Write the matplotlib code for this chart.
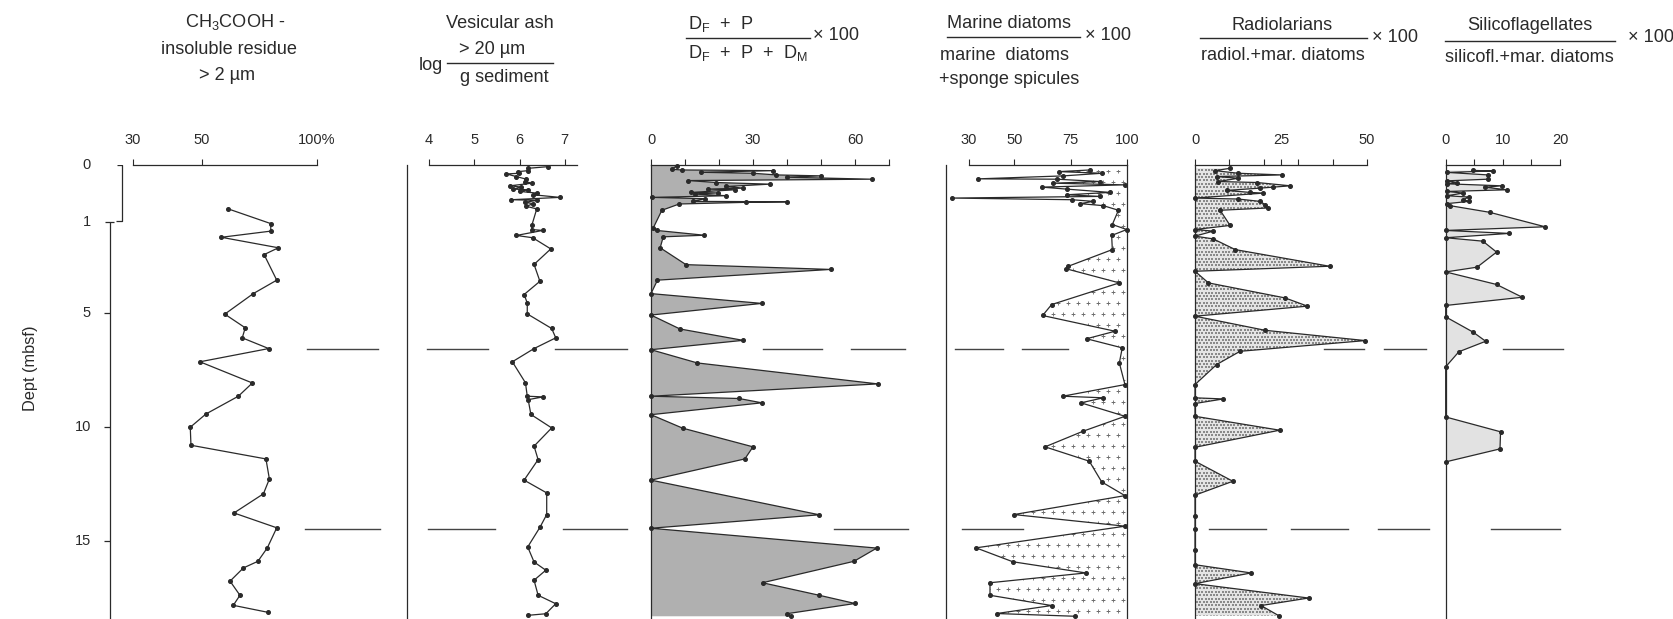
import numpy as np
import matplotlib
matplotlib.use('Agg')
import matplotlib.pyplot as plt
from matplotlib import font_manager as fm
from matplotlib.ticker import NullLocator

# ---------------- data (depth in mbsf, value) ----------------
ins_depth = [0.77, 1.07, 1.40, 1.67, 2.13, 2.43, 3.55, 4.14, 5.04, 5.64, 6.08, 6.55, 7.13, 8.06, 8.64,
             9.42, 10.0, 10.79, 11.39, 12.27, 12.92, 13.76, 14.41, 15.29, 15.88, 16.17, 16.75, 17.37,
             17.81, 18.12]
ins_val = [61.4, 79.9, 79.9, 58.4, 83.2, 77.0, 82.5, 72.3, 59.9, 68.8, 67.5, 79.0, 49.4, 71.9, 65.8,
           51.7, 46.6, 46.8, 77.8, 79.3, 76.7, 63.9, 82.5, 78.4, 74.3, 68.0, 62.2, 66.5, 63.6, 78.8]

ash_depth = [0.029, 0.058, 0.099, 0.116, 0.145, 0.157, 0.203, 0.249, 0.29, 0.319, 0.365, 0.388, 0.423,
             0.435, 0.464, 0.493, 0.522, 0.568, 0.609, 0.62, 0.655, 0.678, 0.725, 0.77, 1.15, 1.33,
             1.37, 1.59, 1.69, 2.18, 2.86, 3.60, 4.18, 4.55, 5.03, 5.67, 6.08, 6.55, 7.13, 8.05, 8.64,
             8.67, 8.79, 9.44, 10.03, 10.83, 11.42, 12.32, 12.88, 13.83, 14.39, 15.25, 15.91, 16.27,
             16.71, 17.37, 17.74, 18.18, 18.25]
ash_val = [6.63, 6.19, 6.19, 5.97, 5.99, 5.71, 5.93, 6.15, 6.12, 6.27, 5.79, 6.04, 5.86,
           6.19, 6.01, 6.38, 6.30, 6.89, 5.82, 6.38, 6.12, 6.30, 6.15, 6.38, 6.27, 6.27,
           6.51, 5.93, 6.29, 6.69, 6.32, 6.45, 6.10, 6.17, 6.17, 6.71, 6.80, 6.32, 5.84, 6.13, 6.17,
           6.52, 6.19, 6.25, 6.71, 6.32, 6.41, 6.10, 6.60, 6.60, 6.45, 6.18, 6.32, 6.58,
           6.32, 6.41, 6.80, 6.58, 6.18]

df_depth = [0.017, 0.075, 0.087, 0.099, 0.128, 0.145, 0.174, 0.191, 0.214, 0.249, 0.273, 0.307, 0.336,
            0.377, 0.406, 0.423, 0.435, 0.481, 0.490, 0.51, 0.539, 0.568, 0.591, 0.638, 0.645, 0.655,
            0.684, 0.794, 1.25, 1.37, 1.58, 1.65, 2.13, 2.87, 3.08, 3.55, 4.14, 4.57, 5.08, 5.69, 6.19,
            6.60, 7.18, 8.10, 8.64, 8.74, 8.93, 9.45, 10.04, 10.86, 11.39, 12.32, 13.84, 14.43, 15.3,
            15.88, 16.82, 17.37, 17.73, 18.18, 18.29]
df_val = [7.5, 6.1, 9.0, 36, 14.8, 30, 36.9, 50.1, 39.9, 64.9, 10.9, 19.2, 34.9,
          22.2, 27.1, 16.8, 24.6, 11.9, 19.6, 12.9, 22.2, 0.2, 15.9, 12.4, 39.9, 27.9,
          8.3, 3.2, 0.7, 1.7, 15.7, 3.6, 2.7, 10.3, 52.8, 1.9, 0, 32.6, 0, 8.5, 27.1,
          0, 13.6, 66.7, 0, 25.9, 32.6, 0, 9.3, 30, 27.6, 0, 49.5, 0, 66.4,
          59.7, 32.8, 49.5, 60, 39.9, 41.3]

md_depth = [0.087, 0.116, 0.145, 0.191, 0.243, 0.249, 0.29, 0.319, 0.348, 0.388, 0.423, 0.481, 0.522,
            0.551, 0.58, 0.609, 0.638, 0.678, 0.713, 0.794, 1.11, 1.33, 1.59, 2.21, 2.94, 3.05, 3.67,
            4.62, 5.10, 5.79, 6.12, 6.52, 7.18, 8.13, 8.64, 8.71, 8.93, 9.52, 10.18, 10.86, 11.49,
            12.4, 13.0, 13.83, 14.34, 15.29, 15.90, 16.39, 16.82, 17.37, 17.82, 18.17, 18.29]
md_val = [83.6, 70, 88.8, 71.8, 34.1, 68.9, 88, 67.4, 99, 62.2, 73.3, 92.5, 73.3,
          88, 22.3, 75.5, 85.1, 79.2, 89.5, 96.2, 93.5, 99.9, 93.2, 93.5, 74, 73, 96.6,
          66.6, 62.6, 94.7, 82.1, 97.9, 96.6, 99.1, 71.5, 89.5, 79.6, 99.1, 80.4, 63.7, 83.3,
          88.8, 99.1, 49.9, 99.1, 33.1, 49.4, 81.8, 39.3, 39.3, 66.6, 42.3, 77]

rad_depth = [0.058, 0.099, 0.145, 0.174, 0.203, 0.232, 0.29, 0.307, 0.365, 0.388, 0.406, 0.446, 0.481,
             0.493, 0.58, 0.597, 0.638, 0.696, 0.754, 0.794, 1.15, 1.33, 1.40, 1.62, 1.74, 2.21, 2.94,
             3.16, 3.67, 4.33, 4.69, 5.13, 5.75, 6.20, 6.67, 7.25, 8.13, 8.71, 8.76, 8.96, 9.52, 10.13,
             10.88, 11.49, 12.37, 12.98, 13.9, 14.46, 15.37, 16.03, 16.39, 16.86, 17.49, 17.82, 18.26]
rad_val = [10.2, 5.8, 12.6, 25.2, 6.3, 12.6, 6.8, 18, 27.7, 22.8, 18.9, 9.2, 16,
           19.9, 0, 12.6, 18.9, 20.4, 21.1, 7.3, 10.2, 0, 5.3, 0, 5.3, 11.7, 39.1,
           0, 3.9, 26.2, 32.7, 0, 20.4, 49.5, 13.1, 6.3, 0, 0, 8.2, 0, 0, 24.6,
           0, 0, 11, 0, 0, 0, 0, 0, 16.3, 0, 33, 19.2, 24.3]

sil_depth = [0.095, 0.105, 0.13, 0.174, 0.249, 0.278, 0.307, 0.33, 0.365, 0.39, 0.435, 0.464, 0.493,
             0.539, 0.562, 0.609, 0.638, 0.678, 0.713, 0.83, 1.21, 1.37, 1.50, 1.69, 1.84, 2.32, 2.98,
             3.19, 3.74, 4.30, 4.66, 5.16, 5.83, 6.23, 6.69, 7.35, 9.55, 10.2, 10.95, 11.52]
sil_val = [4.8, 8.2, 0.3, 7.4, 7.4, 0.2, 1.9, 0.2, 9.8, 6.9, 10.7, 0.2, 3.1,
           0.2, 4.0, 3.1, 4.1, 0.2, 0.75, 7.7, 17.4, 0, 11.1, 0, 6.5, 8.9, 5.5,
           0, 8.9, 13.4, 0, 0, 4.8, 7.0, 2.3, 0, 0, 9.6, 9.5, 0]

marker_depths = [6.55, 14.45]

# ---------------- fonts ----------------
names = {f.name for f in fm.fontManager.ttflist}
if 'Liberation Sans Narrow' in names:
    FONT, K = 'Liberation Sans Narrow', 1.0
else:
    FONT, K = 'Liberation Sans', 0.84
plt.rcParams['font.family'] = [FONT, 'DejaVu Sans']
plt.rcParams['mathtext.fontset'] = 'custom'
plt.rcParams['mathtext.rm'] = FONT
plt.rcParams['mathtext.it'] = FONT
plt.rcParams['mathtext.bf'] = FONT
HS = 15.5 * K
TS = 12.5 * K
INK = '#2a2a2a'

W, H = 1673, 619
fig = plt.figure(figsize=(W / 100, H / 100), dpi=100)
TOPF = (H - 165) / H
YBOT = 18.41


def dfwd(d):
    d = np.asarray(d, float)
    return np.where(d < 1, 2.5 * d, d + 1.5)


def dinv(t):
    t = np.asarray(t, float)
    return np.where(t < 2.5, t / 2.5, t - 1.5)


def rfwd(v):
    v = np.asarray(v, float)
    return np.where(v < 50, (v - 30) * 3.45, 69 + (v - 50) * 2.3)


def rinv(p):
    p = np.asarray(p, float)
    return np.where(p < 69, 30 + p / 3.45, 50 + (p - 69) / 2.3)


def panel(pl, pr, xlim, ticks, labels, bounds, left=True, right=False, xscale=None):
    ax = fig.add_axes([pl / W, 0, (pr - pl) / W, TOPF])
    ax.patch.set_alpha(0)
    if xscale is not None:
        ax.set_xscale('function', functions=xscale)
    ax.set_yscale('function', functions=(dfwd, dinv))
    ax.set_xlim(*xlim)
    ax.set_ylim(YBOT, 0)
    ax.spines['bottom'].set_visible(False)
    ax.spines['left'].set_visible(left)
    ax.spines['right'].set_visible(right)
    for s in ax.spines.values():
        s.set_linewidth(0.9)
        s.set_color(INK)
    ax.spines['top'].set_bounds(*bounds)
    ax.xaxis.tick_top()
    ax.set_xticks(ticks)
    ax.set_xticklabels(labels)
    ax.xaxis.set_minor_locator(NullLocator())
    ax.yaxis.set_minor_locator(NullLocator())
    ax.set_yticks([])
    ax.tick_params(axis='x', direction='out', length=4, width=0.8, pad=9,
                   labelsize=TS, colors=INK)
    return ax


def curve(ax, x, y):
    ax.plot(x, y, color=INK, lw=0.9, marker='o', ms=2.6, mfc=INK, mec=INK,
            clip_on=False, zorder=5)


def pattern(ax, poly, dx, dy, marker, s, color, lw, stagger=True):
    bb = ax.get_position()
    wpx, hpx = bb.width * W, bb.height * H
    xs, ys = [], []
    for j, yy in enumerate(np.arange(dy / 2, hpx, dy)):
        off = (dx / 2 if (stagger and j % 2) else 0)
        for xx in np.arange(off + 2, wpx, dx):
            xs.append(xx / wpx)
            ys.append(1 - yy / hpx)
    sc = ax.scatter(xs, ys, marker=marker, s=s, c=color, linewidths=lw,
                    transform=ax.transAxes, zorder=2)
    sc.set_clip_path(poly.get_paths()[0], ax.transData)


# Panel 1: insoluble residue
ax1 = panel(133, 317, (30, 100), [30, 50, 100], ['30', '50', '100%'], (30, 100),
            left=False, xscale=(rfwd, rinv))
curve(ax1, ins_val, ins_depth)

# Panel 2: vesicular ash
ax2 = panel(407, 577, (3.51, 7.27), [4, 5, 6, 7], ['4', '5', '6', '7'], (4, 7.27))
curve(ax2, ash_val, ash_depth)

# Panel 3: DF+P ratio
ax3 = panel(651, 889, (0, 70), list(range(0, 71, 10)),
            ['0', '', '', '30', '', '', '60', ''], (0, 70))
ax3.fill_betweenx(df_depth, 0, df_val, facecolor='#b0b0b0', edgecolor='none', zorder=1)
curve(ax3, df_val, df_depth)

# Panel 4: marine diatoms
ax4 = panel(946, 1127, (19.8, 100), [30, 50, 75, 100], ['30', '50', '75', '100'], (30, 100),
            right=True)
p4 = ax4.fill_betweenx(md_depth, md_val, 100, facecolor='white', edgecolor='none', zorder=1)
pattern(ax4, p4, 10, 11, '+', 8, '#6e6e6e', 0.6)
curve(ax4, md_val, md_depth)

# Panel 5: radiolarians
ax5 = panel(1195, 1367, (0, 50), [0, 10, 20, 25, 30, 40, 50],
            ['0', '', '', '25', '', '', '50'], (0, 50))
p5 = ax5.fill_betweenx(rad_depth, 0, rad_val, facecolor='#e4e4e4', edgecolor='none', zorder=1)
pattern(ax5, p5, 3.4, 3.4, 's', 0.9, '#8a8a8a', 0)
curve(ax5, rad_val, rad_depth)

# Panel 6: silicoflagellates
ax6 = panel(1445.7, 1560, (0, 20), [0, 5, 10, 15, 20], ['0', '', '10', '', '20'], (0, 20))
ax6.fill_betweenx(sil_depth, 0, sil_val, facecolor='#e2e2e2', edgecolor='none', zorder=1)
curve(ax6, sil_val, sil_depth)

# ---------------- depth axis and marker lines (pixel x, depth y) ----------------
ax0 = fig.add_axes([0, 0, 1, TOPF], zorder=-1)
ax0.set_yscale('function', functions=(dfwd, dinv))
ax0.set_xlim(0, W)
ax0.set_ylim(YBOT, 0)
ax0.axis('off')
lk = dict(color=INK, lw=0.9, solid_capstyle='butt')
ax0.plot([110, 110], [1, YBOT], **lk)
ax0.plot([105, 114], [1, 1], **lk)
for d in [5, 10, 15]:
    ax0.plot([104, 110], [d, d], **lk)
ax0.plot([117, 122, 122, 116], [0, 0, 0.98, 0.98], **lk)
for d in [0, 1, 5, 10, 15]:
    ax0.text(91, d, str(d), ha='right', va='center', fontsize=TS, color=INK)

seg1 = [(307, 378), (427, 488), (555, 627), (763, 822), (851, 905), (955, 1003), (1022, 1068),
        (1324, 1364), (1384, 1426), (1503, 1563)]
seg2 = [(305, 380), (428, 495), (563, 627), (834, 908), (962, 1023), (1209, 1266), (1291, 1348),
        (1378, 1429), (1491, 1560)]
for d, segs in zip(marker_depths, [seg1, seg2]):
    for a, b in segs:
        ax0.plot([a, b], [d, d], color='#444444', lw=1.0)

fig.text(30 / W, 1 - 368 / H, 'Dept (mbsf)', rotation=90, ha='center', va='center',
         fontsize=14 * K, color=INK)

# ---------------- headers (pixel coordinates) ----------------
axh = fig.add_axes([0, 0, 1, 1], zorder=-2)
axh.set_xlim(0, W)
axh.set_ylim(H, 0)
axh.axis('off')


def t(x, y, s, ha='center', size=HS):
    axh.text(x, y, s, ha=ha, va='center', fontsize=size, color=INK)


def hl(x0, x1, y):
    axh.plot([x0, x1], [y, y], color=INK, lw=1.0)


t(235, 22, 'CH$_3$COOH -')
t(229, 49, 'insoluble residue')
t(227, 76, '> 2 µm')

t(500, 23, 'Vesicular ash')
t(431, 66, 'log')
t(492, 49, '> 20 µm')
hl(447, 553, 63)
t(504, 77, 'g sediment')

t(688, 24, 'D$_F$  +  P', ha='left')
hl(686, 810, 38)
t(688, 53, 'D$_F$  +  P  +  D$_M$', ha='left')
t(813, 36, '× 100', ha='left')

t(947, 24, 'Marine diatoms', ha='left')
hl(947, 1080, 37)
t(1085, 36, '× 100', ha='left')
t(940, 55, 'marine  diatoms', ha='left')
t(939, 80, '+sponge spicules', ha='left')

t(1282, 26, 'Radiolarians')
hl(1200, 1367, 38)
t(1372, 37, '× 100', ha='left')
t(1201, 55, 'radiol.+mar. diatoms', ha='left')

t(1530, 26, 'Silicoflagellates')
hl(1445, 1615, 41)
t(1628, 37, '× 100', ha='left')
t(1445, 57, 'silicofl.+mar. diatoms', ha='left')

fig.savefig('out.png', dpi=100, facecolor='white')
